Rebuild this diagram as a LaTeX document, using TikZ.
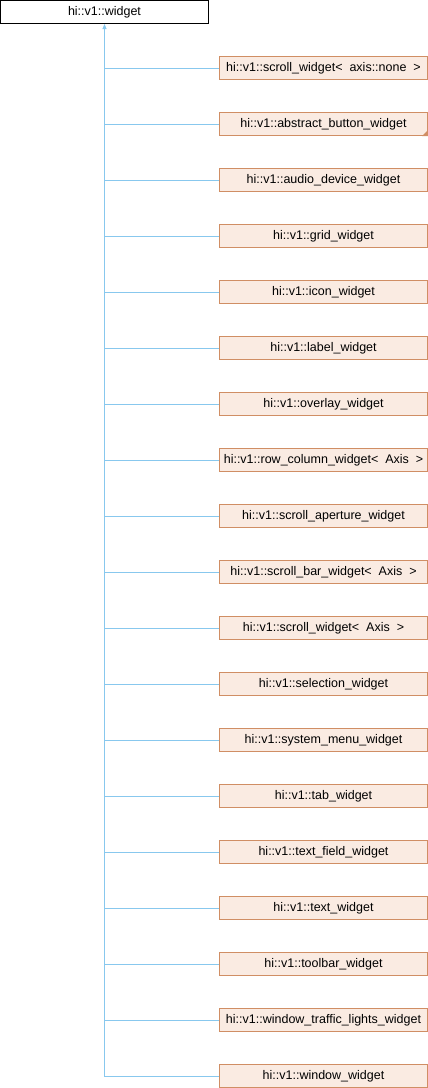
\documentclass[tikz,border=0pt]{standalone}
\usepackage{fontspec}
\setmainfont{Liberation Sans}
\usetikzlibrary{arrows.meta}
\definecolor{edgeblue}{HTML}{88C8EE}
\definecolor{boxfill}{HTML}{FAEBE2}
\definecolor{boxline}{HTML}{D08E64}
\tikzset{
  basebox/.style={draw=black, fill=white, line width=1pt, minimum width=208pt, minimum height=23pt, inner sep=0pt, font=\fontsize{12.5pt}{14pt}\selectfont},
  childbox/.style={draw=boxline, fill=boxfill, line width=1pt, minimum width=208pt, minimum height=23pt, inner sep=0pt, font=\fontsize{12.5pt}{14pt}\selectfont},
  edge/.style={draw=edgeblue, line width=1pt},
}
\begin{document}
\begin{tikzpicture}[x=1pt,y=-1pt]
\useasboundingbox (0,0) rectangle (428,1088);
\node[basebox] (top) at (104.5,12) {hi::v1::widget};
\foreach \i/\t in {1/{hi::v1::scroll\_widget<~~axis::none~~>},
  2/{hi::v1::abstract\_button\_widget},
  3/{hi::v1::audio\_device\_widget},
  4/{hi::v1::grid\_widget},
  5/{hi::v1::icon\_widget},
  6/{hi::v1::label\_widget},
  7/{hi::v1::overlay\_widget},
  8/{hi::v1::row\_column\_widget<~~Axis~~>},
  9/{hi::v1::scroll\_aperture\_widget},
  10/{hi::v1::scroll\_bar\_widget<~~Axis~~>},
  11/{hi::v1::scroll\_widget<~~Axis~~>},
  12/{hi::v1::selection\_widget},
  13/{hi::v1::system\_menu\_widget},
  14/{hi::v1::tab\_widget},
  15/{hi::v1::text\_field\_widget},
  16/{hi::v1::text\_widget},
  17/{hi::v1::toolbar\_widget},
  18/{hi::v1::window\_traffic\_lights\_widget},
  19/{hi::v1::window\_widget}}
{
  \node[childbox] (c\i) at (323.5,{12+56*\i}) {\t};
  \draw[edge] (c\i.west) -- (c\i.west -| top.south);
}
\coordinate (trunkend) at (104.5,1076.5);
\draw[edge, {Triangle[length=5pt,width=4pt]}-] (top.south) -- (trunkend);
\fill[boxline] (c2.south east) -- ++(-6,0) -- ++(6,-6) -- cycle;
\end{tikzpicture}
\end{document}
